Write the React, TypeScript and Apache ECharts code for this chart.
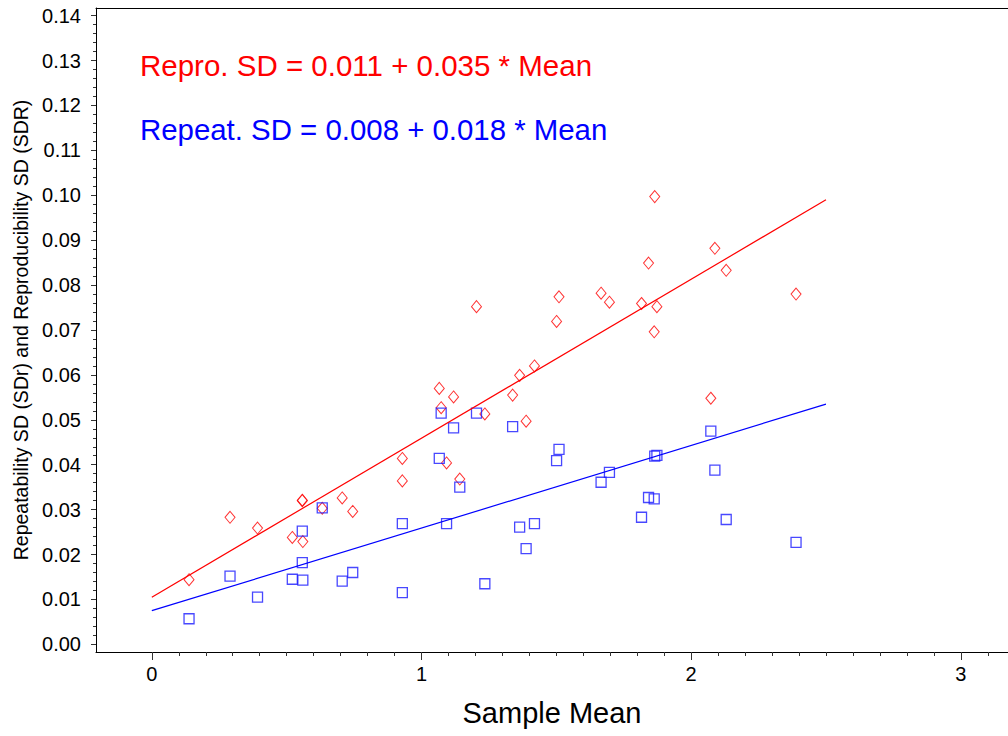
import React, { useEffect, useRef } from "react";
import * as echarts from "echarts";

// ---- Data ----
const sampleMeans = [
  0.138, 0.29, 0.392, 0.521, 0.558, 0.558, 0.56, 0.632, 0.706, 0.745, 0.929, 0.929,
  1.066, 1.073, 1.093, 1.119, 1.142, 1.204, 1.235, 1.338, 1.364, 1.388, 1.419, 1.501,
  1.51, 1.666, 1.697, 1.816, 1.842, 1.863, 1.865, 1.873, 2.073, 2.088, 2.13, 2.389,
];
const reproSD = [
  0.0144, 0.0283, 0.0259, 0.0238, 0.032, 0.0321, 0.0229, 0.0303, 0.0326, 0.0296, 0.0414, 0.0364,
  0.057, 0.0527, 0.0404, 0.0551, 0.0368, 0.0752, 0.0513, 0.0555, 0.0599, 0.0497, 0.062, 0.0719,
  0.0774, 0.0782, 0.0762, 0.0759, 0.0849, 0.0696, 0.0997, 0.0752, 0.0548, 0.0882, 0.0833, 0.078,
];
const repeatSD = [
  0.0057, 0.0152, 0.0105, 0.0145, 0.0252, 0.0182, 0.0143, 0.0304, 0.0141, 0.016, 0.0269, 0.0115,
  0.0414, 0.0515, 0.0269, 0.0482, 0.035, 0.0515, 0.0135, 0.0485, 0.0261, 0.0213, 0.0269, 0.0409,
  0.0434, 0.0361, 0.0383, 0.0283, 0.0327, 0.0324, 0.0419, 0.0421, 0.0475, 0.0388, 0.0278, 0.0227,
];
// fitted lines (end points)
const reproFitX = [0, 2.5];
const reproFitY = [0.0105, 0.099];
const repeatFitX = [0, 2.5];
const repeatFitY = [0.0075, 0.0535];

const xMajorTicks = [0, 1, 2, 3];
const xMinorTicks = [
  0.1, 0.2, 0.3, 0.4, 0.5, 0.6, 0.7, 0.8, 0.9, 1.1, 1.2, 1.3, 1.4, 1.5, 1.6, 1.7, 1.8, 1.9,
  2.1, 2.2, 2.3, 2.4, 2.5, 2.6, 2.7, 2.8, 2.9, 3.1,
];
const yMajorTicks = [0, 0.01, 0.02, 0.03, 0.04, 0.05, 0.06, 0.07, 0.08, 0.09, 0.1, 0.11, 0.12, 0.13, 0.14];
const yMinorTicks: number[] = [];
for (let i = 0; i <= 70; i++) {
  if (i % 5 !== 0) yMinorTicks.push(+(i * 0.002).toFixed(3));
}

const reproText = "Repro. SD = 0.011 + 0.035 * Mean";
const repeatText = "Repeat. SD = 0.008 + 0.018 * Mean";
const xTitle = "Sample Mean";
const yTitle = "Repeatability SD (SDr) and Reproducibility SD (SDR)";

const X_MIN = -0.207;
const X_MAX = 3.175;
const Y_MIN = -0.0017;
const Y_MAX = 0.1417;

const FONT = '"Liberation Sans", Arial, sans-serif';

export default function App() {
  const ref = useRef<HTMLDivElement>(null);
  useEffect(() => {
    if (!ref.current) return;
    const chart = echarts.init(ref.current, null, { renderer: "svg" });
    const axisCol = "#000";
    const tickCol = "#333";
    const option: any = {
      animation: false,
      backgroundColor: "#fff",
      grid: { left: 96, right: 0, top: 8, bottom: 84, containLabel: false },
      xAxis: [
        {
          type: "value",
          position: "bottom",
          min: X_MIN,
          max: X_MAX,
          axisLine: { show: true, onZero: false, lineStyle: { color: axisCol, width: 1 } },
          axisTick: { show: true, customValues: xMajorTicks, length: 8, lineStyle: { color: tickCol } },
          axisLabel: {
            show: true,
            customValues: xMajorTicks,
            formatter: (v: number) => String(Math.round(v)),
            fontSize: 20,
            color: "#000",
            fontFamily: FONT,
            margin: 12,
          },
          splitLine: { show: false },
          name: xTitle,
          nameLocation: "middle",
          nameGap: 46,
          nameTextStyle: { fontSize: 29, color: "#000", fontFamily: FONT },
        },
        {
          type: "value",
          position: "bottom",
          min: X_MIN,
          max: X_MAX,
          axisLine: { show: false, onZero: false },
          axisTick: { show: true, customValues: xMinorTicks, length: 4, lineStyle: { color: tickCol } },
          axisLabel: { show: false },
          splitLine: { show: false },
        },
        {
          type: "value",
          position: "top",
          min: X_MIN,
          max: X_MAX,
          axisLine: { show: true, onZero: false, lineStyle: { color: axisCol, width: 1 } },
          axisTick: { show: false },
          axisLabel: { show: false },
          splitLine: { show: false },
        },
      ],
      yAxis: [
        {
          type: "value",
          position: "left",
          min: Y_MIN,
          max: Y_MAX,
          axisLine: { show: true, onZero: false, lineStyle: { color: axisCol, width: 1 } },
          axisTick: { show: true, customValues: yMajorTicks, length: 5, lineStyle: { color: tickCol } },
          axisLabel: {
            show: true,
            customValues: yMajorTicks,
            formatter: (v: number) => v.toFixed(2),
            fontSize: 20,
            color: "#000",
            fontFamily: FONT,
            margin: 15,
            padding: [4, 0, 0, 0],
          },
          splitLine: { show: false },
          name: yTitle,
          nameLocation: "middle",
          nameGap: 64,
          nameTextStyle: { fontSize: 19.5, color: "#000", fontFamily: FONT },
        },
        {
          type: "value",
          position: "left",
          min: Y_MIN,
          max: Y_MAX,
          axisLine: { show: false, onZero: false },
          axisTick: { show: true, customValues: yMinorTicks, length: 3, lineStyle: { color: tickCol } },
          axisLabel: { show: false },
          splitLine: { show: false },
        },
      ],
      graphic: [
        {
          type: "text",
          x: 140,
          y: 65,
          style: {
            text: reproText,
            fill: "#ff0000",
            fontSize: 29.5,
            fontFamily: FONT,
            verticalAlign: "middle",
          },
        },
        {
          type: "text",
          x: 140,
          y: 129,
          style: {
            text: repeatText,
            fill: "#0000ff",
            fontSize: 29.4,
            fontFamily: FONT,
            verticalAlign: "middle",
          },
        },
      ],
      series: [
        {
          type: "line",
          xAxisIndex: 0,
          yAxisIndex: 0,
          data: reproFitX.map((x, i) => [x, reproFitY[i]]),
          symbol: "none",
          lineStyle: { color: "#ff0000", width: 1.2 },
          silent: true,
        },
        {
          type: "line",
          xAxisIndex: 0,
          yAxisIndex: 0,
          data: repeatFitX.map((x, i) => [x, repeatFitY[i]]),
          symbol: "none",
          lineStyle: { color: "#0000ff", width: 1.2 },
          silent: true,
        },
        {
          type: "scatter",
          xAxisIndex: 0,
          yAxisIndex: 0,
          data: sampleMeans.map((x, i) => [x, reproSD[i]]),
          symbol: "diamond",
          symbolSize: [10, 12],
          itemStyle: { color: "rgba(0,0,0,0)", borderColor: "#ff0000", borderWidth: 1 },
        },
        {
          type: "scatter",
          xAxisIndex: 0,
          yAxisIndex: 0,
          data: sampleMeans.map((x, i) => [x, repeatSD[i]]),
          symbol: "rect",
          symbolSize: 10,
          itemStyle: { color: "rgba(0,0,0,0)", borderColor: "#1a1aff", borderWidth: 1.3 },
        },
      ],
    };
    chart.setOption(option);
    return () => chart.dispose();
  }, []);
  return (
    <div
      ref={ref}
      style={{ position: "absolute", left: 0, top: 0, width: 1008, height: 736, background: "#fff" }}
    />
  );
}
